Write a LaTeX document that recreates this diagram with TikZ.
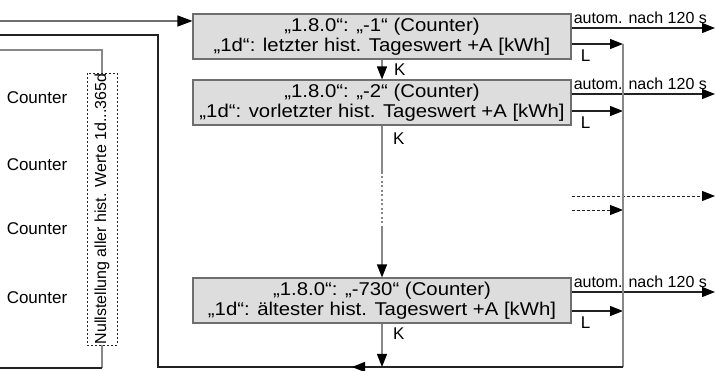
\documentclass[tikz,border=0pt]{standalone}
\usepackage{fontspec}
\setmainfont{Liberation Sans}
\newfontfamily\boxfont[FakeStretch=1.1]{Liberation Sans}
\usetikzlibrary{arrows.meta}
\definecolor{boxfill}{HTML}{DDDDDD}
\definecolor{boxline}{HTML}{6E6E6E}
\definecolor{conn}{HTML}{888888}
\definecolor{dark}{HTML}{222222}
\begin{document}
\begin{tikzpicture}[x=1pt,y=-1pt,
  mbox/.style={draw=boxline, fill=boxfill, line width=1.1pt, minimum width=378pt, minimum height=45pt, inner sep=0pt, align=center, font=\boxfont\fontsize{18.5}{20.5}\selectfont},
  tip/.style={-{Triangle[length=15pt,width=11pt,color=black]}},
  smalltip/.style={-{Triangle[length=13pt,width=10pt,color=black]}},
  lbl/.style={font=\fontsize{17}{20}\selectfont, inner sep=0pt},
  slbl/.style={font=\fontsize{16}{19}\selectfont, inner sep=0pt},
  darkline/.style={draw=dark, line width=1.2pt},
  grayline/.style={draw=conn, line width=1.4pt}]
\useasboundingbox (0,0) rectangle (715,371);

% boxes
\node[mbox] (b1) at (382,36.5) {„1.8.0“: „-1“ (Counter)\\„1d“: letzter hist. Tageswert +A [kWh]};
\node[mbox] (b2) at (382,102.5) {„1.8.0“: „-2“ (Counter)\\„1d“: vorletzter hist. Tageswert +A [kWh]};
\node[mbox] (b3) at (382,300.5) {„1.8.0“: „-730“ (Counter)\\„1d“: ältester hist. Tageswert +A [kWh]};

% counters
\node[lbl] (c1) at (37,98) {Counter};
\node[lbl] (c2) at (37,165) {Counter};
\node[lbl] (c3) at (37,229) {Counter};
\node[lbl] (c4) at (37,298) {Counter};

% reset box
\node[draw=dark, line width=0.9pt, dash pattern=on 2pt off 2pt, rotate=90, minimum width=272pt, minimum height=30pt, inner sep=0pt, slbl] (nb) at (102,209) {Nullstellung aller hist. Werte 1d...365d};
\coordinate (n1) at (0,50);
\coordinate (n2) at (0,368);
\draw[grayline] (n1) -| (nb.east);
\draw[grayline] (nb.west) -- (nb.west |- n2);
\draw[darkline] (nb.west |- n2) -- (n2);

% input arrow
\coordinate (in1) at (0,21);
\draw[darkline, draw=boxline, tip] (in1) -- (in1 -| b1.west);

% autom arrows
\coordinate (a1) at (715,28);
\coordinate (a2) at (715,94);
\coordinate (a3) at (715,292);
\foreach \b/\a in {b1/a1,b2/a2,b3/a3}{
  \draw[darkline, smalltip] (\a -| \b.east) -- (\a);
  \node[slbl, anchor=base west, xshift=2pt, yshift=4.5pt] at (\a -| \b.east) {autom. nach 120 s};
}

% L arrows
\coordinate (r1) at (623,44);
\coordinate (r2) at (623,111);
\coordinate (r3) at (623,311);
\foreach \b/\r in {b1/r1,b2/r2,b3/r3}{
  \draw[darkline, smalltip] (\r -| \b.east) -- (\r);
  \node[lbl, anchor=north west, xshift=9pt, yshift=-6pt] at (\r -| \b.east) {L};
}

% dashed arrows
\coordinate (e1) at (715,196);
\coordinate (e2) at (623,210);
\draw[darkline, line width=0.9pt, dash pattern=on 3pt off 2pt, smalltip] (e1 -| b2.east) -- (e1);
\draw[darkline, line width=0.9pt, dash pattern=on 3pt off 2pt, smalltip] (e2 -| b2.east) -- (e2);

% feedback loop
\coordinate (rb) at (623,367);
\coordinate (mid) at (352,367);
\coordinate (lb) at (158,367);
\coordinate (lt) at (158,35);
\coordinate (out) at (0,35);
\draw[grayline] (r1) -- (rb);
\draw[darkline] (rb) -- (lb) -- (lt) -- (out);
\draw[darkline, smalltip] (rb) -- (mid);

% K arrows
\coordinate (d1) at (382,172);
\coordinate (d2) at (382,227);
\coordinate (k3) at (382,367);
\draw[grayline, smalltip] (b1.south) -- (b2.north);
\draw[grayline] (b2.south) -- (d1);
\draw[grayline, dash pattern=on 2pt off 2.5pt] (d1) -- (d2);
\draw[grayline, smalltip] (d2) -- (b3.north);
\draw[grayline, smalltip] (b3.south) -- (k3);
\node[lbl, anchor=west] at (394,70) {K};
\node[lbl, anchor=west] at (393,139) {K};
\node[lbl, anchor=west] at (393,334) {K};
\end{tikzpicture}
\end{document}
